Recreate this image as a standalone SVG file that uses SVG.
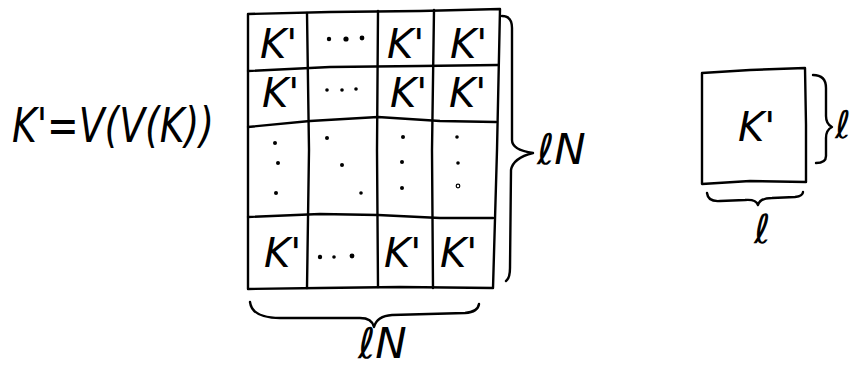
<svg xmlns="http://www.w3.org/2000/svg" width="854" height="368" viewBox="0 0 854 368">
<style>
.ln{fill:none;stroke:#000;stroke-width:2.4;stroke-linecap:round;stroke-linejoin:round}
.tx{font-family:"DejaVu Sans",sans-serif;font-style:italic;fill:#000}
.k{font-size:40px}
.big{font-size:42px}
.dot{fill:#000}
</style>
<rect width="854" height="368" fill="#fff"/>
<g id="formula">
<text class="tx" x="12" y="142" font-size="48" textLength="202" lengthAdjust="spacingAndGlyphs">K'=V(V(K))</text>
</g>
<g id="grid">
<path class="ln" d="M248,14 L330,12 L420,11 L500,9 L497,150 L493,288 L400,287 L320,288 L248,289 Z"/>
<path class="ln" d="M248,71 L330,67 L420,66 L498,65"/>
<path class="ln" d="M248,127 L310,121 L378,117 L440,121 L496,122"/>
<path class="ln" d="M248,217 L320,214 L378,215 L440,218 L493,218"/>
<path class="ln" d="M307,13 L309,150 L307,288"/>
<path class="ln" d="M378,11 L377,150 L378,287"/>
<path class="ln" d="M434,10 L432,150 L433,288"/>
<text class="tx k" x="260" y="58">K'</text>
<text class="tx k" x="387" y="58">K'</text>
<text class="tx k" x="450" y="58">K'</text>
<text class="tx k" x="262" y="107">K'</text>
<text class="tx k" x="390" y="107">K'</text>
<text class="tx k" x="449" y="107">K'</text>
<text class="tx k" x="264" y="267">K'</text>
<text class="tx k" x="384" y="267">K'</text>
<text class="tx k" x="440" y="267">K'</text>
<g class="dot">
<circle cx="329" cy="39" r="2.2"/><circle cx="346" cy="39" r="2.6"/><circle cx="362" cy="38" r="2.4"/>
<circle cx="327" cy="90" r="1.8"/><circle cx="342" cy="90" r="1.8"/><circle cx="356" cy="89" r="1.8"/>
<circle cx="320" cy="257" r="2.2"/><circle cx="334" cy="257" r="1.8"/><circle cx="352" cy="256" r="2.4"/>
<circle cx="275" cy="143" r="2"/><circle cx="278" cy="163" r="2"/><circle cx="276" cy="193" r="2"/>
<circle cx="327" cy="138" r="2"/><circle cx="342" cy="165" r="2"/><circle cx="361" cy="193" r="1.8"/>
<circle cx="403" cy="137" r="2"/><circle cx="402" cy="162" r="2"/><circle cx="402" cy="188" r="2"/>
<circle cx="457" cy="137" r="1.8"/><circle cx="458" cy="163" r="1.8"/>
</g>
<circle cx="458" cy="186" r="1.8" fill="none" stroke="#000" stroke-width="1.2"/>
</g>
<g id="small">
<path class="ln" d="M702,73 L750,70 L805,68 L806,125 L806,182 L750,181 L702,184 Z"/>
<text class="tx k" x="738" y="141">K'</text>
</g>
<g id="braces">
<path class="ln" d="M502,16 Q512,16 512,28 L512,140 Q512,150 533,153 Q513,158 511,170 L510,268 Q510,278 506,281"/>
<path class="ln" d="M250,302 Q252,318 280,318 L360,318 Q372,318 374,327 Q377,316 392,315 L465,313 Q478,312 479,304"/>
<path class="ln" d="M813,75 Q826,75 826,88 L826,116 Q826,124 832,127 Q826,130 826,138 L826,156 Q826,163 816,163"/>
<path class="ln" d="M707,193 Q708,202 720,201 L745,200 Q756,199 758,205 Q760,198 772,198 L795,197 Q803,196 803,192"/>
</g>
<g id="labels">
<text class="tx big" x="537" y="164">ℓN</text>
<text class="tx big" x="358" y="358">ℓN</text>
<text class="tx" x="835" y="138" font-size="38">ℓ</text>
<text class="tx" x="754" y="243" font-size="40">ℓ</text>
</g>
</svg>
